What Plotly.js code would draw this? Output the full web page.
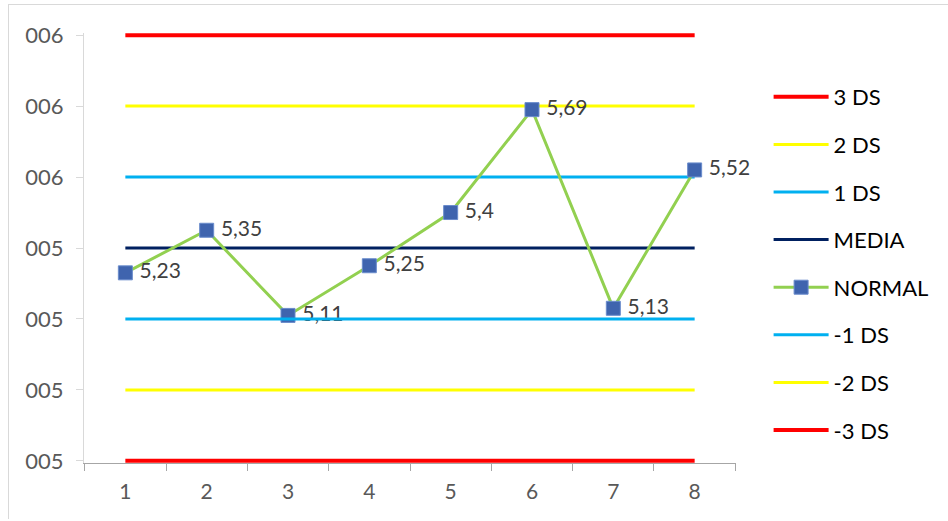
<!DOCTYPE html>
<html>
<head>
<meta charset="utf-8">
<script src="https://cdn.plot.ly/plotly-3.0.1.min.js"></script>
<style>
  html, body { margin: 0; padding: 0; background: #fff; }
  #wrap { position: relative; width: 948px; height: 521px; }
  #chart { position: absolute; left: 0; top: 0; width: 948px; height: 521px; }
  #frame { position: absolute; left: 8px; top: 4px; width: 940px; height: 514px;
           border-top: 1px solid #d9d9d9; border-left: 1px solid #d9d9d9; pointer-events: none; }
</style>
</head>
<body>
<div id="wrap">
  <div id="chart"></div>
  <div id="frame"></div>
</div>
<script>
// ---- data ----
const categories = ['1', '2', '3', '4', '5', '6', '7', '8'];
const normal = [5.23, 5.35, 5.11, 5.25, 5.4, 5.69, 5.13, 5.52];
const normalLabels = ['5,23', '5,35', '5,11', '5,25', '5,4', '5,69', '5,13', '5,52'];
const plus3 = [5.9, 5.9, 5.9, 5.9, 5.9, 5.9, 5.9, 5.9];
const plus2 = [5.7, 5.7, 5.7, 5.7, 5.7, 5.7, 5.7, 5.7];
const plus1 = [5.5, 5.5, 5.5, 5.5, 5.5, 5.5, 5.5, 5.5];
const media = [5.3, 5.3, 5.3, 5.3, 5.3, 5.3, 5.3, 5.3];
const minus1 = [5.1, 5.1, 5.1, 5.1, 5.1, 5.1, 5.1, 5.1];
const minus2 = [4.9, 4.9, 4.9, 4.9, 4.9, 4.9, 4.9, 4.9];
const minus3 = [4.7, 4.7, 4.7, 4.7, 4.7, 4.7, 4.7, 4.7];
const yTickVals = [4.7, 4.9, 5.1, 5.3, 5.5, 5.7, 5.9];
const yTickText = ['005', '005', '005', '005', '006', '006', '006'];

const FONT = 'Lato, "Open Sans", sans-serif';

function limitTrace(name, y, color, width, group) {
  return {
    type: 'scatter', mode: 'lines', name: name, x: categories, y: y,
    line: { color: color, width: width }, legendgroup: group,
    hoverinfo: 'skip'
  };
}

const traces = [
  limitTrace('3 DS', plus3, '#FF0000', 4, 'g1'),
  limitTrace('2 DS', plus2, '#FFFF00', 3, 'g2'),
  limitTrace('1 DS', plus1, '#00B0F0', 3, 'g3'),
  limitTrace('MEDIA', media, '#002060', 3, 'g4'),
  {
    type: 'scatter', mode: 'lines+markers+text', name: 'NORMAL',
    x: categories, y: normal, text: normalLabels, textposition: 'middle right',
    texttemplate: '\u2008%{text}',
    textfont: { family: FONT, size: 21, color: '#404040' },
    line: { color: '#92D050', width: 3 },
    marker: { symbol: 'square', size: 14, color: '#3F64AE', line: { color: '#6A8CCC', width: 1 } },
    cliponaxis: false, legendgroup: 'g5'
  },
  limitTrace('-1 DS', minus1, '#00B0F0', 3, 'g6'),
  limitTrace('-2 DS', minus2, '#FFFF00', 3, 'g7'),
  limitTrace('-3 DS', minus3, '#FF0000', 4, 'g8')
];

const layout = {
  width: 948, height: 521,
  margin: { l: 84, r: 212, t: 33, b: 58 },
  paper_bgcolor: '#ffffff', plot_bgcolor: '#ffffff',
  font: { family: FONT, size: 21, color: '#595959' },
  showlegend: true,
  legend: {
    x: 1.05, y: 0.9, xanchor: 'left', yanchor: 'top',
    font: { family: FONT, size: 22, color: '#000000' },
    tracegroupgap: 16, itemwidth: 55, bgcolor: 'rgba(0,0,0,0)'
  },
  xaxis: {
    type: 'category', categoryorder: 'array', categoryarray: categories,
    showgrid: false, zeroline: false, showline: true, linecolor: '#a6a6a6', linewidth: 1,
    ticks: 'outside', tickson: 'boundaries', ticklen: 7, tickcolor: '#a6a6a6',
    ticklabelstandoff: 10,
    tickfont: { family: FONT, size: 21, color: '#595959' },
    layer: 'below traces', fixedrange: true
  },
  yaxis: {
    range: [4.694, 5.906], tickmode: 'array', tickvals: yTickVals, ticktext: yTickText,
    showgrid: false, zeroline: false, showline: true, linecolor: '#d9d9d9', linewidth: 1,
    ticks: 'outside', ticklen: 7, tickcolor: '#d9d9d9',
    ticklabelstandoff: 8,
    tickfont: { family: FONT, size: 22, color: '#595959' },
    layer: 'below traces', fixedrange: true
  }
};

Plotly.newPlot('chart', traces, layout, { displayModeBar: false, staticPlot: true });
</script>
</body>
</html>
